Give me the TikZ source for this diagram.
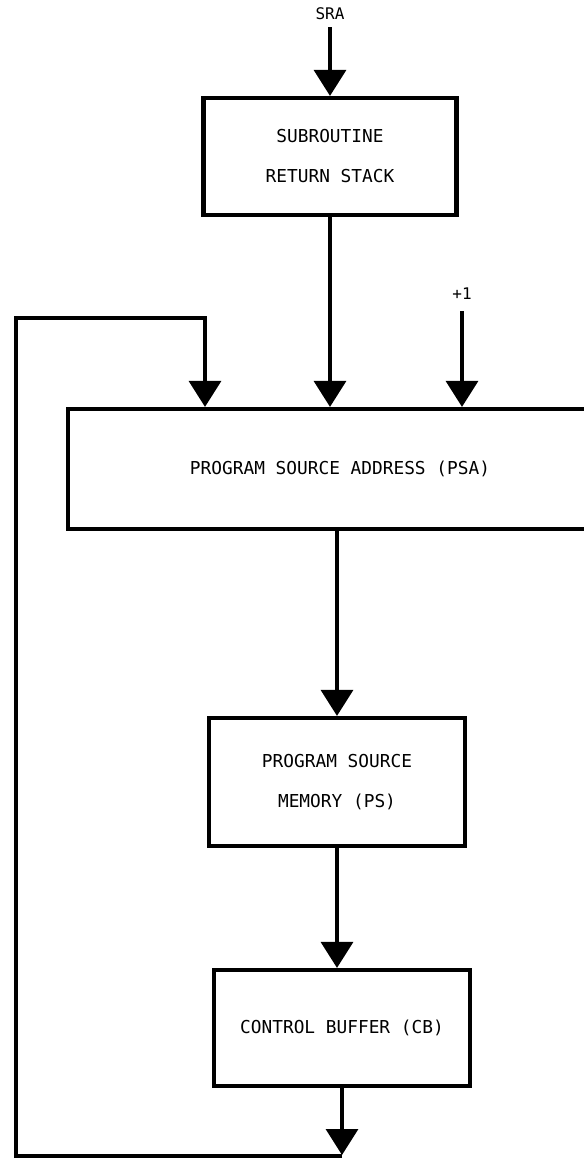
\documentclass[tikz,border=0pt]{standalone}
\usepackage{fontspec}
\setmonofont{DejaVu Sans Mono}
\usetikzlibrary{arrows.meta}
\begin{document}
\begin{tikzpicture}[x=1pt,y=-1pt,
  box/.style={draw, line width=4.2pt, inner sep=0pt, align=center,
    font=\ttfamily\fontsize{17.8}{40}\selectfont},
  lbl/.style={inner sep=1pt, font=\ttfamily\fontsize{16}{18}\selectfont},
  conn/.style={line width=3.4pt, line join=miter, -{Triangle[width=32pt,length=26pt]}},
  wire/.style={line width=3.4pt}]
\useasboundingbox (0,0) rectangle (584,1160);
\clip (0,0) rectangle (584,1160);
\node[lbl] (sra) at (330,14) {SRA};
\node[box, minimum width=253pt, minimum height=117pt] (srs) at (330,156.5) {SUBROUTINE\\RETURN STACK};
\node[lbl] (plus) at (462,294) {+1};
\node[box, minimum width=544pt, minimum height=120pt] (psa) at (340,469) {PROGRAM SOURCE ADDRESS (PSA)};
\node[box, minimum width=256pt, minimum height=128pt] (ps) at (337,782) {PROGRAM SOURCE\\MEMORY (PS)};
\node[box, minimum width=256pt, minimum height=116pt] (cb) at (342,1028) {CONTROL BUFFER (CB)};
\coordinate (bot) at (342,1155);
\coordinate (bl) at (16,1156);
\coordinate (tl) at (16,318);
\coordinate (tr) at (205,318);
\draw[conn, shorten <=6pt] (sra.south) -- (srs.north);
\draw[conn] (srs.south) -- (srs.south |- psa.north);
\draw[conn, shorten <=10pt] (plus.south) -- (plus.south |- psa.north);
\draw[conn] (psa.south -| ps.north) -- (ps.north);
\draw[conn] (ps.south) -- (ps.south |- cb.north);
\draw[conn] (cb.south) -- (bot);
\draw[conn] (bot |- bl) -- (bl) -- (tl) -- (tr) -- (tr |- psa.north);
\end{tikzpicture}
\end{document}
